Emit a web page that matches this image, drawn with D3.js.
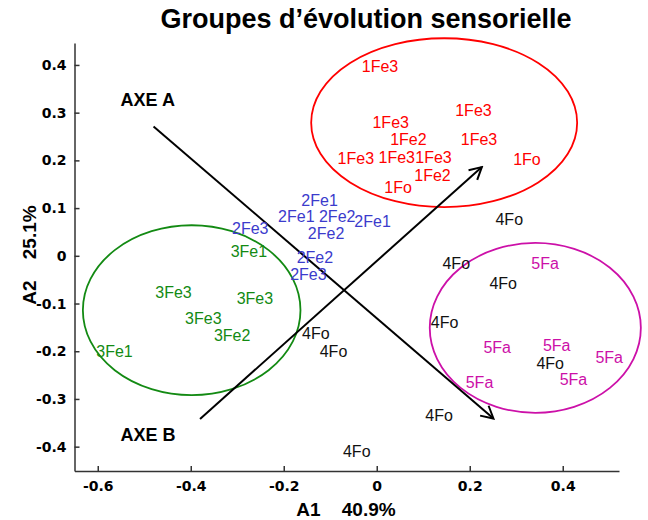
<!DOCTYPE html>
<html>
<head>
<meta charset="utf-8">
<script src="https://cdn.jsdelivr.net/npm/d3@7"></script>
<style>
  body { margin: 0; background: #fff; }
  svg { font-family: "Liberation Sans", Arial, Helvetica, sans-serif; }
  .axis text { font-family: "DejaVu Sans", sans-serif; font-size: 14px; font-weight: bold; fill: #000; }
  .axis path, .axis line { stroke: #333; stroke-width: 1.5; }
</style>
</head>
<body>
<div id="chart"></div>
<script>
const WIDTH = 648, HEIGHT = 520;
const PLOT = { left: 74.5, right: 619, top: 43, bottom: 471 };

// tick values
const xTicks = [-0.6, -0.4, -0.2, 0, 0.2, 0.4];
const yTicks = [-0.4, -0.3, -0.2, -0.1, 0, 0.1, 0.2, 0.3, 0.4];

// groups: label, colour
const groups = ['1', '2', '3', '4', '5'];
const groupColors = ['#ff0000', '#3b3bcc', '#138a13', '#111111', '#cc10a8'];

// observations (A1, A2, label)
const obsLabels = [
  '1Fe3', '1Fe3', '1Fe3', '1Fe2', '1Fe3', '1Fe3', '1Fe3', '1Fe3', '1Fo', '1Fe2', '1Fo',
  '2Fe1', '2Fe1', '2Fe2', '2Fe1', '2Fe2', '2Fe3', '2Fe2', '2Fe3',
  '3Fe1', '3Fe3', '3Fe3', '3Fe3', '3Fe2', '3Fe1',
  '4Fo', '4Fo', '4Fo', '4Fo', '4Fo', '4Fo', '4Fo', '4Fo', '4Fo',
  '5Fa', '5Fa', '5Fa', '5Fa', '5Fa', '5Fa'
];
const obsA1 = [
  0.007, 0.208, 0.030, 0.068, 0.220, -0.045, 0.043, 0.122, 0.323, 0.120, 0.046,
  -0.123, -0.173, -0.085, -0.009, -0.109, -0.272, -0.133, -0.147,
  -0.275, -0.437, -0.262, -0.373, -0.311, -0.564,
  0.285, 0.171, 0.272, 0.146, -0.131, -0.093, 0.373, 0.134, -0.043,
  0.362, 0.259, 0.387, 0.500, 0.423, 0.221
];
const obsA2 = [
  0.396, 0.304, 0.280, 0.244, 0.243, 0.203, 0.206, 0.206, 0.202, 0.169, 0.144,
  0.115, 0.083, 0.083, 0.071, 0.047, 0.058, -0.003, -0.040,
  0.009, -0.077, -0.089, -0.131, -0.166, -0.201,
  0.077, -0.016, -0.059, -0.140, -0.162, -0.201, -0.225, -0.335, -0.411,
  -0.016, -0.192, -0.187, -0.214, -0.260, -0.265
];

// group ellipses: centre, radii (data units)
const ellipseGroups = ['1', '3', '5'];
const ellipseCx = [0.145, -0.398, 0.341];
const ellipseCy = [0.279, -0.114, -0.151];
const ellipseRx = [0.286, 0.234, 0.227];
const ellipseRy = [0.177, 0.178, 0.178];

// sensory axes
const axisNames = ['AXE A', 'AXE B'];
const axisFrom = [[-0.480, 0.271], [-0.380, -0.342]];
const axisTo = [[0.251, -0.341], [0.226, 0.186]];
const axisLabelAt = [[-0.551, 0.313], [-0.551, -0.388]];

const x = d3.scaleLinear().domain([-0.65, 0.521]).range([PLOT.left, PLOT.right]);
const y = d3.scaleLinear().domain([-0.451, 0.446]).range([PLOT.bottom, PLOT.top]);
const color = d3.scaleOrdinal().domain(groups).range(groupColors);
const fmt = d => String(+d.toFixed(1));

const svg = d3.select('#chart').append('svg')
  .attr('width', WIDTH)
  .attr('height', HEIGHT);

svg.append('defs').append('marker')
  .attr('id', 'arrow')
  .attr('markerUnits', 'userSpaceOnUse')
  .attr('viewBox', '-14 -8 16 16')
  .attr('refX', 0).attr('refY', 0)
  .attr('markerWidth', 16).attr('markerHeight', 16)
  .attr('orient', 'auto')
  .append('path')
  .attr('d', 'M-12,-6.5L0,0L-12,6.5')
  .attr('fill', 'none')
  .attr('stroke', '#000')
  .attr('stroke-width', 2);

// axes
svg.append('g')
  .attr('class', 'axis')
  .attr('transform', `translate(0,${PLOT.bottom})`)
  .call(d3.axisBottom(x).tickValues(xTicks).tickFormat(fmt)
    .tickSizeInner(-5).tickSizeOuter(0).tickPadding(10));

svg.append('g')
  .attr('class', 'axis')
  .attr('transform', `translate(${PLOT.left},0)`)
  .call(d3.axisLeft(y).tickValues(yTicks).tickFormat(fmt)
    .tickSizeInner(-5).tickSizeOuter(0).tickPadding(8));

// ellipses
svg.selectAll('.grp-ellipse')
  .data(ellipseGroups)
  .enter().append('ellipse')
  .attr('class', 'grp-ellipse')
  .attr('cx', (d, i) => x(ellipseCx[i]))
  .attr('cy', (d, i) => y(ellipseCy[i]))
  .attr('rx', (d, i) => x(ellipseRx[i]) - x(0))
  .attr('ry', (d, i) => y(0) - y(ellipseRy[i]))
  .attr('fill', 'none')
  .attr('stroke', d => color(d))
  .attr('stroke-width', 1.8);

// sensory axis arrows
svg.selectAll('.axe')
  .data(axisNames)
  .enter().append('line')
  .attr('class', 'axe')
  .attr('x1', (d, i) => x(axisFrom[i][0]))
  .attr('y1', (d, i) => y(axisFrom[i][1]))
  .attr('x2', (d, i) => x(axisTo[i][0]))
  .attr('y2', (d, i) => y(axisTo[i][1]))
  .attr('stroke', '#000')
  .attr('stroke-width', 2)
  .attr('marker-end', 'url(#arrow)');

svg.selectAll('.axe-label')
  .data(axisNames)
  .enter().append('text')
  .attr('class', 'axe-label')
  .attr('x', (d, i) => x(axisLabelAt[i][0]))
  .attr('y', (d, i) => y(axisLabelAt[i][1]))
  .style('font-size', '18px')
  .style('font-weight', 'bold')
  .text(d => d);

// observation labels
svg.selectAll('.obs')
  .data(obsLabels)
  .enter().append('text')
  .attr('class', 'obs')
  .attr('x', (d, i) => x(obsA1[i]))
  .attr('y', (d, i) => y(obsA2[i]))
  .attr('text-anchor', 'middle')
  .attr('dominant-baseline', 'central')
  .style('font-size', '16px')
  .style('fill', d => color(d[0]))
  .text(d => d);

// titles
svg.append('text')
  .attr('x', 366)
  .attr('y', 28)
  .attr('text-anchor', 'middle')
  .style('font-size', '27px')
  .style('font-weight', 'bold')
  .text('Groupes d’évolution sensorielle');

svg.append('text')
  .attr('x', 346)
  .attr('y', 516)
  .attr('text-anchor', 'middle')
  .style('font-size', '19px')
  .style('font-weight', 'bold')
  .style('white-space', 'pre')
  .attr('xml:space', 'preserve')
  .text('A1    40.9%');

svg.append('text')
  .attr('transform', 'translate(36,255) rotate(-90)')
  .attr('text-anchor', 'middle')
  .style('font-size', '19px')
  .style('font-weight', 'bold')
  .style('white-space', 'pre')
  .attr('xml:space', 'preserve')
  .text('A2    25.1%');
</script>
</body>
</html>
